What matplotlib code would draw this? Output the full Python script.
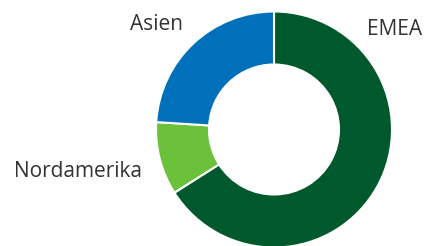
import matplotlib
matplotlib.use("Agg")
import matplotlib.pyplot as plt

regions = ["EMEA", "Nordamerika", "Asien"]
shares = [66, 10, 24]
colors = ["#00582d", "#6cc13a", "#0070bb"]

fig = plt.figure(figsize=(4.28, 2.46), dpi=100)
ax = fig.add_axes([0, 0, 1, 1])

# donut, clockwise from 12 o'clock
ax.pie(shares, colors=colors, startangle=90, counterclock=False,
       center=(274, 116.5), radius=118,
       wedgeprops=dict(width=53, edgecolor="white", linewidth=1.5))

ax.set_xlim(0, 428)
ax.set_ylim(0, 246)
ax.set_aspect("equal")
ax.axis("off")

# labels
lab = dict(fontsize=15, color="#333333", family=["Open Sans", "DejaVu Sans"],
           ha="center", va="baseline")
ax.text(394.5, 211, regions[0], **lab)
ax.text(78, 69, regions[1], **lab)
ax.text(156.5, 216, regions[2], **lab)

fig.savefig("out.png", dpi=100)
